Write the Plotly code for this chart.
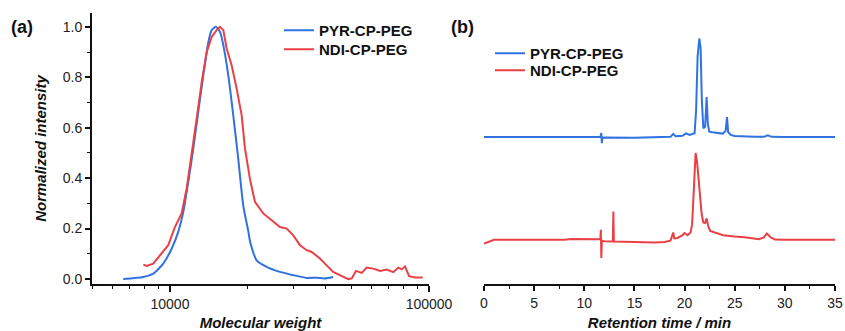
import plotly.graph_objects as go
import numpy as np

# ---------- Panel (a): GPC molecular weight distribution ----------
mw_pyr = [6600, 7890, 8620, 9420, 10150, 10760, 11260, 11770, 12300, 12860, 13450,
          14070, 14490, 15050, 15600, 16070, 16790, 17550, 18340, 19190, 20060,
          20370, 21610, 23620, 26590, 29920, 33730, 36830, 39500, 42650]
int_pyr = [0.0, 0.008, 0.021, 0.061, 0.12, 0.187, 0.266, 0.385, 0.517, 0.663, 0.808,
           0.94, 0.987, 1.0, 0.98, 0.927, 0.808, 0.65, 0.478, 0.29, 0.19,
           0.15, 0.074, 0.048, 0.028, 0.015, 0.004, 0.005, 0.002, 0.008]

mw_ndi = [7890, 8130, 8620, 9150, 9850, 10450, 11090, 11600, 12130, 12680, 13260,
          13860, 14490, 15140, 15600, 16070, 16550, 17300, 18090, 18910, 19480,
          20370, 21280, 22910, 24690, 26590, 28220, 29920, 31770, 33730, 35260,
          37930, 40270, 42650, 45290, 48790, 50300, 52240, 54950, 57480, 60950,
          64720, 68670, 72800, 76140, 78460, 80800, 83750, 88350, 94560]
int_ndi = [0.057, 0.052, 0.061, 0.094, 0.134, 0.206, 0.26, 0.359, 0.491, 0.636, 0.782,
           0.9, 0.96, 0.987, 1.0, 0.987, 0.914, 0.848, 0.755, 0.65, 0.517,
           0.395, 0.306, 0.26, 0.233, 0.206, 0.2, 0.173, 0.134, 0.114, 0.107,
           0.081, 0.054, 0.028, 0.015, -0.001, 0.002, 0.032, 0.024, 0.045, 0.041,
           0.032, 0.037, 0.027, 0.045, 0.038, 0.05, 0.011, 0.006, 0.006]

mw_ticks = [10000, 100000]
mw_ticktext = ["10000", "100000"]
mw_minor = [5000, 6000, 7000, 8000, 9000, 20000, 30000, 40000, 50000, 60000,
            70000, 80000, 90000]
y_ticks = [0.0, 0.2, 0.4, 0.6, 0.8, 1.0]
y_ticktext = ["0.0", "0.2", "0.4", "0.6", "0.8", "1.0"]

# ---------- Panel (b): HPLC traces (offset, arbitrary units) ----------
t_pyr = [0, 2, 11.6, 11.7, 11.75, 11.8, 12, 15, 18, 18.6, 18.87, 19.1, 19.8, 20.14,
         20.5, 21.0, 21.15, 21.3, 21.47, 21.6, 21.72, 21.87, 22.05, 22.2, 22.32,
         22.47, 22.8, 23.2, 23.8, 24.1, 24.23, 24.35, 24.6, 25, 26, 27, 27.9, 28.3,
         28.7, 30, 35]
s_pyr = [0.542, 0.542, 0.542, 0.557, 0.52, 0.54, 0.541, 0.540, 0.541, 0.543, 0.554,
         0.545, 0.547, 0.556, 0.550, 0.556, 0.64, 0.84, 0.906, 0.87, 0.68, 0.575,
         0.58, 0.69, 0.59, 0.562, 0.56, 0.557, 0.555, 0.565, 0.616, 0.56,
         0.55, 0.546, 0.544, 0.543, 0.543, 0.549, 0.543, 0.542, 0.542]

t_ndi = [0, 0.5, 1.0, 3, 8, 8.7, 11.6, 11.65, 11.7, 11.75, 12.0, 12.85, 12.9, 12.95,
         15, 17, 18, 18.6, 18.87, 18.97, 19.3, 19.8, 20.0, 20.3, 20.6, 20.75, 20.9,
         21.0, 21.1, 21.25, 21.4, 21.55, 21.7, 21.87, 22.05, 22.2, 22.35, 22.55,
         23, 23.86, 25, 26.2, 27.4, 27.9, 28.2, 28.6, 29.0, 30, 35]
s_ndi = [0.149, 0.155, 0.163, 0.163, 0.163, 0.166, 0.165, 0.20, 0.096, 0.16, 0.158,
         0.157, 0.267, 0.157, 0.155, 0.153, 0.155, 0.16, 0.19, 0.168, 0.17, 0.18,
         0.188, 0.18, 0.19, 0.22, 0.33, 0.45, 0.484, 0.45, 0.39, 0.33, 0.26, 0.227,
         0.225, 0.242, 0.215, 0.196, 0.19, 0.18, 0.175, 0.172, 0.165, 0.172, 0.186,
         0.172, 0.164, 0.163, 0.163]

t_ticks = [0, 5, 10, 15, 20, 25, 30, 35]
t_ticktext = ["0", "5", "10", "15", "20", "25", "30", "35"]

BLUE = "#2f72e0"
RED = "#ea4045"
FONT = "Liberation Sans, Arial, sans-serif"
W, H = 845, 331

fig = go.Figure()
fig.add_trace(go.Scatter(x=mw_pyr, y=int_pyr, mode="lines", name="PYR-CP-PEG",
                         line=dict(color=BLUE, width=2, shape="spline", smoothing=0.6),
                         xaxis="x", yaxis="y", legend="legend"))
fig.add_trace(go.Scatter(x=mw_ndi, y=int_ndi, mode="lines", name="NDI-CP-PEG",
                         line=dict(color=RED, width=2), xaxis="x", yaxis="y",
                         legend="legend2"))
fig.add_trace(go.Scatter(x=t_pyr, y=s_pyr, mode="lines", name="PYR-CP-PEG",
                         line=dict(color=BLUE, width=2), xaxis="x2", yaxis="y2",
                         legend="legend3"))
fig.add_trace(go.Scatter(x=t_ndi, y=s_ndi, mode="lines", name="NDI-CP-PEG",
                         line=dict(color=RED, width=2), xaxis="x2", yaxis="y2",
                         legend="legend4"))

ydom = [(H - 284) / H, (H - 13) / H]
tickfont = dict(family=FONT, size=14, color="#222")
titlefont = dict(family=FONT, size=15, color="#111", weight="bold", style="italic")
legfont = dict(family=FONT, size=15, color="#111", weight="bold")


def leg(xpx, ypx_center):
    return dict(x=xpx / W, y=1 - (ypx_center - 16) / H, xanchor="left", yanchor="top",
                bgcolor="rgba(0,0,0,0)", borderwidth=0, font=legfont, itemwidth=30)


fig.update_layout(
    width=W, height=H,
    margin=dict(l=0, r=0, t=0, b=0, autoexpand=False),
    paper_bgcolor="white", plot_bgcolor="white",
    xaxis=dict(
        type="log", domain=[92 / W, 429 / W], range=[np.log10(5000), 5.0],
        anchor="y", automargin=False, tickmode="array", tickvals=mw_ticks,
        ticktext=mw_ticktext,
        ticks="outside", ticklen=6, tickwidth=1.5, tickcolor="#111",
        showline=True, linecolor="#111", linewidth=2, showgrid=False, zeroline=False,
        minor=dict(tickmode="array", tickvals=mw_minor, ticks="outside", ticklen=3,
                   tickwidth=1.2, tickcolor="#111", showgrid=False),
        tickfont=tickfont,
        title=dict(text="Molecular weight", font=titlefont, standoff=12),
    ),
    yaxis=dict(
        domain=ydom, range=[-0.02, 1.055], anchor="x", automargin=False,
        tickmode="array", tickvals=y_ticks, ticktext=y_ticktext,
        ticks="outside", ticklen=5, tickwidth=1.5, tickcolor="#111",
        showline=True, linecolor="#111", linewidth=2, showgrid=False, zeroline=False,
        minor=dict(dtick=0.1, ticks="outside", ticklen=3, tickwidth=1.2,
                   tickcolor="#111", showgrid=False),
        tickfont=tickfont,
        title=dict(text="Normalized intensity", font=titlefont, standoff=12),
    ),
    xaxis2=dict(
        domain=[484 / W, 835 / W], range=[0, 35], anchor="y2", automargin=False,
        tickmode="array", tickvals=t_ticks, ticktext=t_ticktext,
        ticks="outside", ticklen=5, tickwidth=1.5, tickcolor="#111",
        showline=True, linecolor="#111", linewidth=2, showgrid=False, zeroline=False,
        minor=dict(dtick=2.5, ticks="outside", ticklen=3, tickwidth=1.2,
                   tickcolor="#111", showgrid=False),
        tickfont=tickfont,
        title=dict(text="Retention time / min", font=titlefont, standoff=10),
    ),
    yaxis2=dict(
        domain=ydom, range=[0, 1], anchor="x2", visible=False, automargin=False,
    ),
    legend=leg(279, 30),
    legend2=leg(279, 49),
    legend3=leg(490, 53),
    legend4=leg(490, 70),
    showlegend=True,
    annotations=[
        dict(text="(a)", x=22 / W, y=1 - 27 / H, xref="paper", yref="paper",
             showarrow=False, xanchor="center", yanchor="middle",
             font=dict(family=FONT, size=18, color="#111", weight="bold")),
        dict(text="(b)", x=462 / W, y=1 - 27 / H, xref="paper", yref="paper",
             showarrow=False, xanchor="center", yanchor="middle",
             font=dict(family=FONT, size=18, color="#111", weight="bold")),
    ],
)

fig.write_html("out.html")
